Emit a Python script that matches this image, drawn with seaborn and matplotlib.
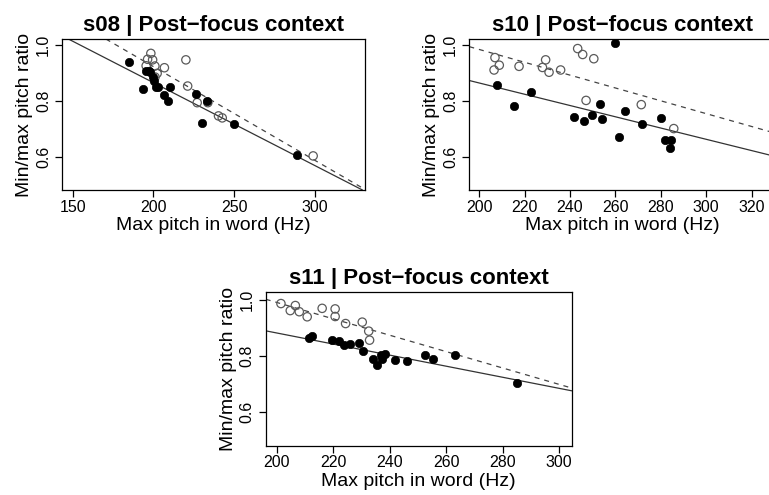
import matplotlib
matplotlib.use("Agg")
import matplotlib.pyplot as plt
import seaborn as sns
import pandas as pd

# ---------------- data ----------------
titles = ["s08 | Post\u2212focus context", "s10 | Post\u2212focus context", "s11 | Post\u2212focus context"]

s08_filled_pitch = [184.8, 193.7, 195.4, 197.0, 197.8, 199.5, 200.5, 201.4, 203.0, 206.7, 209.2, 210.0, 226.3, 230.2, 232.9, 249.8, 289.2]
s08_filled_ratio = [0.937, 0.844, 0.908, 0.905, 0.902, 0.886, 0.870, 0.851, 0.849, 0.822, 0.801, 0.851, 0.825, 0.723, 0.801, 0.719, 0.607]
s08_open_pitch = [198.4, 196.4, 199.5, 200.9, 195.5, 202.3, 206.8, 220.1, 221.2, 227.1, 233.7, 240.3, 242.6, 298.9, 201.0]
s08_open_ratio = [0.969, 0.948, 0.946, 0.924, 0.925, 0.898, 0.918, 0.946, 0.853, 0.794, 0.794, 0.747, 0.740, 0.605, 0.885]

s10_filled_pitch = [207.8, 215.3, 223.0, 241.8, 246.2, 249.9, 253.2, 254.1, 260.0, 261.8, 264.3, 271.7, 280.1, 282.0, 284.5, 284.0]
s10_filled_ratio = [0.857, 0.783, 0.831, 0.743, 0.730, 0.752, 0.791, 0.736, 1.005, 0.671, 0.763, 0.717, 0.741, 0.660, 0.660, 0.633]
s10_open_pitch = [206.6, 207.0, 208.9, 217.6, 227.9, 229.3, 230.8, 235.9, 243.4, 245.6, 250.5, 247.1, 271.4, 285.7]
s10_open_ratio = [0.910, 0.954, 0.927, 0.923, 0.919, 0.946, 0.902, 0.910, 0.986, 0.965, 0.950, 0.802, 0.787, 0.702]

s11_filled_pitch = [211.5, 212.6, 219.6, 222.2, 223.7, 225.8, 229.0, 230.4, 234.0, 235.4, 236.9, 237.4, 238.3, 241.8, 246.2, 252.6, 255.2, 263.0, 285.2]
s11_filled_ratio = [0.865, 0.872, 0.857, 0.853, 0.838, 0.842, 0.845, 0.818, 0.790, 0.767, 0.802, 0.790, 0.806, 0.787, 0.782, 0.802, 0.790, 0.802, 0.704]
s11_open_pitch = [201.5, 204.8, 206.6, 208.0, 210.8, 216.1, 220.7, 220.7, 224.4, 230.3, 232.6, 232.9]
s11_open_ratio = [0.986, 0.961, 0.979, 0.957, 0.939, 0.969, 0.967, 0.940, 0.915, 0.920, 0.888, 0.856]

# fitted lines: ratio at 200 Hz and slope per Hz (solid = filled, dashed = open)
solid_at200 = [0.865, 0.864, 0.8815]
solid_slope = [-0.002944, -0.002001, -0.001966]
dashed_at200 = [0.922, 0.983, 0.990]
dashed_slope = [-0.003328, -0.00228, -0.00291]

x_ticks = [[150, 200, 250, 300], [200, 220, 240, 260, 280, 300, 320], [200, 220, 240, 260, 280, 300]]
y_ticks = [0.6, 0.8, 1.0]

# ---------------- style ----------------
sns.set_theme(style="ticks")
plt.rcParams["font.family"] = ["Liberation Sans", "DejaVu Sans"]
plt.rcParams["text.color"] = "black"
plt.rcParams["axes.labelcolor"] = "black"

W, H = 769, 495
fig = plt.figure(figsize=(W / 100, H / 100), dpi=100)

# axes boxes in pixels: (left, top, right, bottom)
boxes = [(62, 39, 365, 190), (469.3, 39, 776, 190), (265.7, 292.3, 571.7, 445.7)]
xlims = [(143.4, 331.0), (195.7, 330.7), (196.1, 304.5)]
ylims = [(0.484, 1.020), (0.484, 1.020), (0.481, 1.026)]

panels = [
    (s08_filled_pitch, s08_filled_ratio, s08_open_pitch, s08_open_ratio),
    (s10_filled_pitch, s10_filled_ratio, s10_open_pitch, s10_open_ratio),
    (s11_filled_pitch, s11_filled_ratio, s11_open_pitch, s11_open_ratio),
]

for i, (fp, fr, op, orr) in enumerate(panels):
    l, t, r, b = boxes[i]
    ax = fig.add_axes([l / W, 1 - b / H, (r - l) / W, (b - t) / H])
    ax.set_xlim(*xlims[i])
    ax.set_ylim(*ylims[i])

    df_f = pd.DataFrame({"pitch": fp, "ratio": fr})
    df_o = pd.DataFrame({"pitch": op, "ratio": orr})

    ax.axline((200, solid_at200[i]), slope=solid_slope[i], color="#333333", lw=0.9, zorder=1)
    ax.axline((200, dashed_at200[i]), slope=dashed_slope[i], color="#444444", lw=0.9,
              ls=(0, (4, 4)), zorder=1)

    sns.scatterplot(data=df_o, x="pitch", y="ratio", ax=ax, s=36, marker="o",
                    facecolor="none", edgecolor="#5a5a5a", linewidth=0.9, zorder=3)
    sns.scatterplot(data=df_f, x="pitch", y="ratio", ax=ax, s=36, marker="o",
                    color="black", edgecolor="black", linewidth=0.5, zorder=4)

    ax.set_xticks(x_ticks[i])
    ax.set_yticks(y_ticks)
    ax.set_yticklabels([f"{v:.1f}" for v in y_ticks], rotation=90, va="center")
    ax.tick_params(axis="both", direction="out", length=5, width=0.9, colors="black",
                   labelcolor="black", labelsize=11.5, pad=2)
    ax.tick_params(axis="y", pad=3)
    for sp in ax.spines.values():
        sp.set_visible(True)
        sp.set_color("black")
        sp.set_linewidth(0.9)

    ax.set_xlabel("Max pitch in word (Hz)", fontsize=14, labelpad=2, color="black")
    ax.set_ylabel("Min/max pitch ratio", fontsize=14, labelpad=2, color="black")
    ax.set_title(titles[i], fontsize=16, fontweight="bold", pad=6, color="black")

fig.savefig("out.png", dpi=100)
